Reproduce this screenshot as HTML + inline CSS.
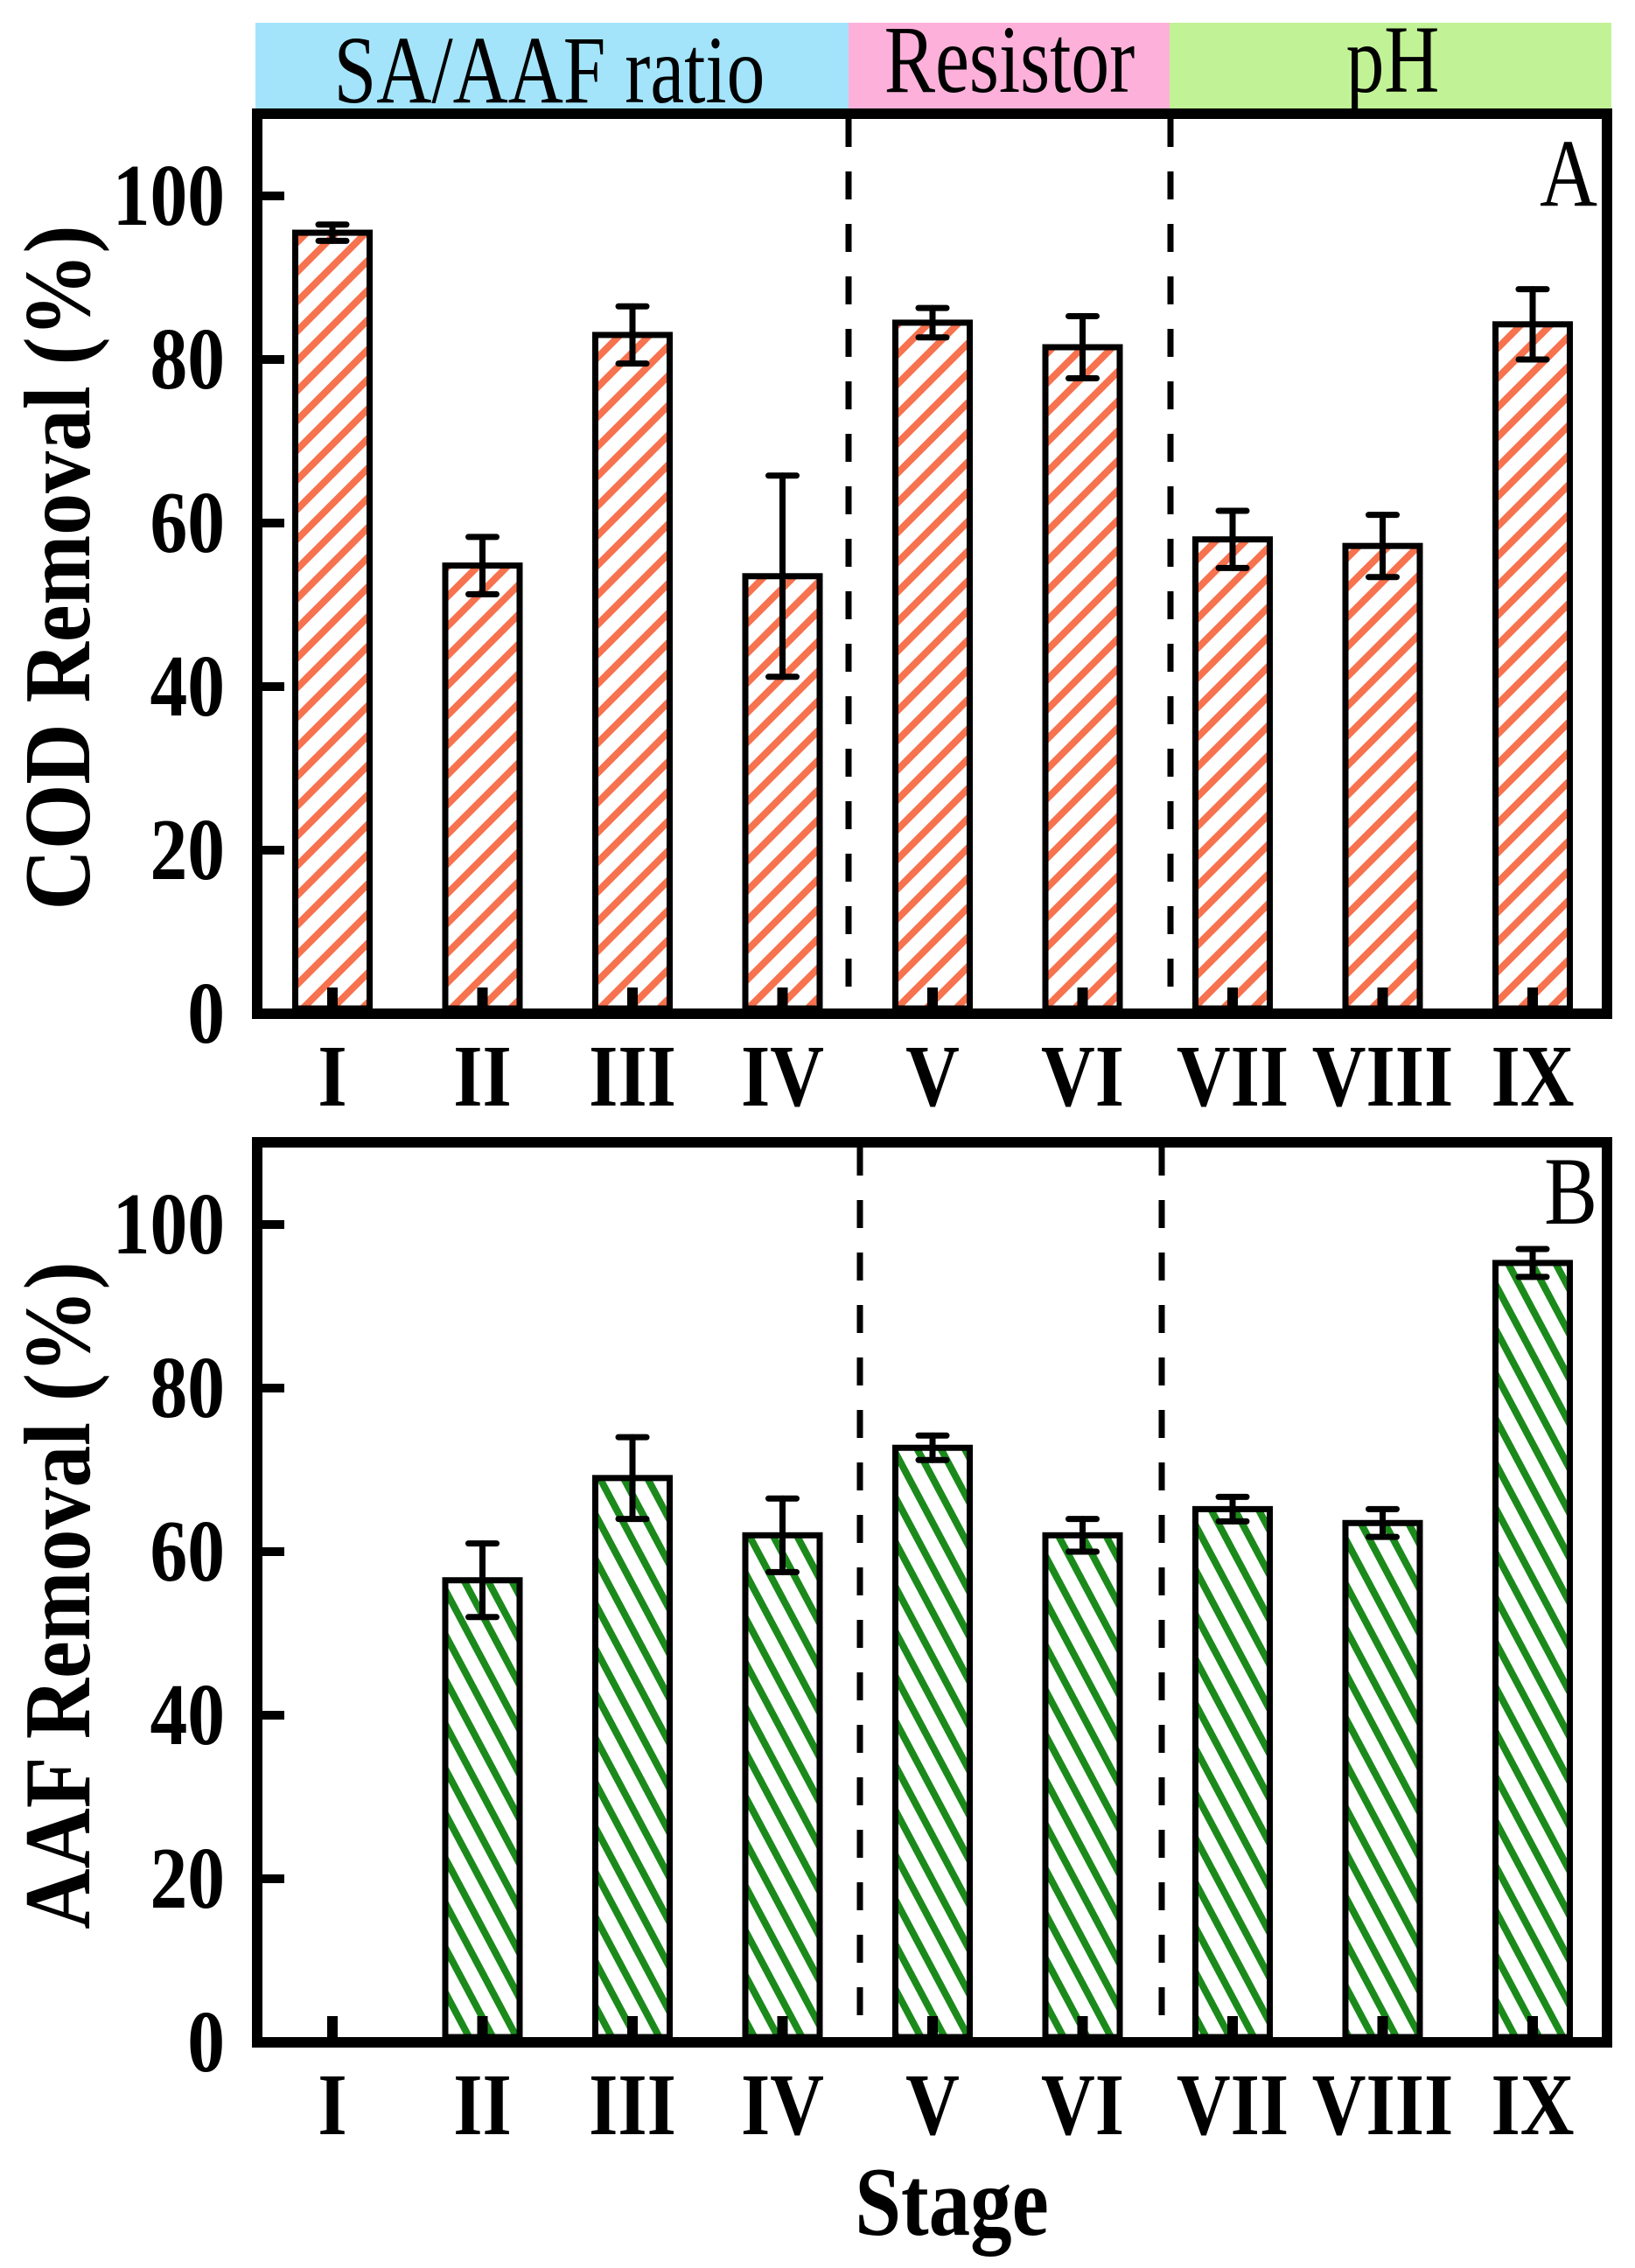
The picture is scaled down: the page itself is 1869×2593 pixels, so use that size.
<!DOCTYPE html>
<html><head><meta charset="utf-8"><style>
html,body{margin:0;padding:0;background:#fff;}
svg{display:block;}
text{font-family:"Liberation Serif",serif;}
</style></head><body>
<svg id="chart" width="1869" height="2593" viewBox="0 0 1869 2593" xmlns="http://www.w3.org/2000/svg">
<defs>
<pattern id="hatchA" patternUnits="userSpaceOnUse" width="24" height="24" patternTransform="rotate(45)">
<rect width="24" height="24" fill="#fff"/><rect x="0" y="0" width="8" height="24" fill="#f7724e"/>
</pattern>
<pattern id="hatchB" patternUnits="userSpaceOnUse" width="24" height="24" patternTransform="rotate(-28)">
<rect width="24" height="24" fill="#fff"/><rect x="0" y="0" width="8" height="24" fill="#1b8a1b"/>
</pattern>
</defs>
<g>
<rect x="292" y="26" width="678" height="100" fill="#a3e4fb"/>
<rect x="970" y="26" width="367" height="100" fill="#fdb1da"/>
<rect x="1337" y="26" width="505" height="100" fill="#c2f296"/>
<text transform="translate(628,117) scale(0.95,1.2)" font-size="92" text-anchor="middle">SA/AAF ratio</text>
<text transform="translate(1154,105) scale(0.95,1.2)" font-size="92" text-anchor="middle">Resistor</text>
<text transform="translate(1592,105) scale(0.95,1.2)" font-size="92" text-anchor="middle">pH</text>
</g>
<g id="panelA"></g>
<g id="panelB"></g>
<text transform="translate(1088,2555) scale(0.95,1.12)" font-size="100" font-weight="bold" text-anchor="middle">Stage</text>
</svg>
<script>
const categories = ["I","II","III","IV","V","VI","VII","VIII","IX"];
const codValues = [95.5,54.8,83,53.5,84.5,81.5,58,57.2,84.3];
const codErrors = [1,3.5,3.5,12.3,1.8,3.8,3.5,3.8,4.3];
const aafValues = [null,56.5,69,62,72.7,62,65.2,63.5,95.3];
const aafErrors = [null,4.5,5,4.5,1.5,2,1.5,1.7,1.7];
const yTicks = [0,20,40,60,80,100];
const NS = "http://www.w3.org/2000/svg";
function mk(tag, attrs, parent){const e=document.createElementNS(NS,tag);for(const k in attrs)e.setAttribute(k,attrs[k]);parent.appendChild(e);return e;}
const xScale = i => 380 + 171.5*i;
function drawPanel(g, zeroY, vals, errs, fill, dashes, letter, letterY, title, titleY){
  const yScale = v => zeroY - v*9.35;
  const left=294, right=1837, top=zeroY-1029;
  vals.forEach((v,i)=>{
    if(v===null) return;
    const cx=xScale(i);
    const r=mk('rect',{x:cx-42.5,y:yScale(v),width:85,height:zeroY-6-yScale(v),fill:fill,stroke:'#000','stroke-width':7},g);
    
    
  });
  vals.forEach((v,i)=>{
    if(v===null) return;
    const cx=xScale(i), e=errs[i];
    const eg=mk('g',{stroke:'#000','stroke-width':7,'stroke-linecap':'round'},g);
    
    
    mk('line',{x1:cx,x2:cx,y1:yScale(v+e),y2:yScale(v-e)},eg);
    mk('line',{x1:cx-16,x2:cx+16,y1:yScale(v+e),y2:yScale(v+e)},eg);
    mk('line',{x1:cx-16,x2:cx+16,y1:yScale(v-e),y2:yScale(v-e)},eg);
  });
  dashes.forEach((dx,k)=>{
    const l=mk('line',{x1:dx,x2:dx,y1:top+6,y2:zeroY-6,stroke:'#000','stroke-width':7,'stroke-dasharray':'32 28'},g);
    
    
  });
  const f=mk('rect',{x:left,y:top,width:right-left,height:zeroY-top,fill:'none',stroke:'#000','stroke-width':12},g);
  
  
  categories.forEach((c,i)=>{
    const cx=xScale(i);
    mk('rect',{x:cx-6,y:zeroY-30,width:12,height:26,fill:'#000'},g);
    const t=mk('text',{transform:'translate('+cx+','+(zeroY+105)+') scale(0.95,1.12)','font-size':90,'font-weight':'bold','text-anchor':'middle'},g);
    t.textContent=c;
    
    
  });
  yTicks.forEach(v=>{
    const y=yScale(v);
    mk('rect',{x:left,y:y-5,width:31,height:10,fill:'#000'},g);
    const t=mk('text',{transform:'translate(257,'+(y+33)+') scale(0.95,1.12)','font-size':90,'font-weight':'bold','text-anchor':'end'},g);
    t.textContent=v;
    
    
  });
  const L=mk('text',{transform:'translate(1826,'+letterY+') scale(0.95,1.15)','font-size':96,'text-anchor':'end'},g);
  L.textContent=letter;
  
  
  const T=mk('text',{x:0,y:0,'font-size':94,'font-weight':'bold','text-anchor':'middle',transform:'translate(102,'+titleY+') rotate(-90) scale(1.02,1.15)'},g);
  T.textContent=title;
  
  
}
drawPanel(document.getElementById('panelA'),1159,codValues,codErrors,'url(#hatchA)',[970,1338],'A',235,'COD Removal (%)',649);
drawPanel(document.getElementById('panelB'),2335,aafValues,aafErrors,'url(#hatchB)',[983,1328],'B',1399,'AAF Removal (%)',1824);
</script>
</body></html>
